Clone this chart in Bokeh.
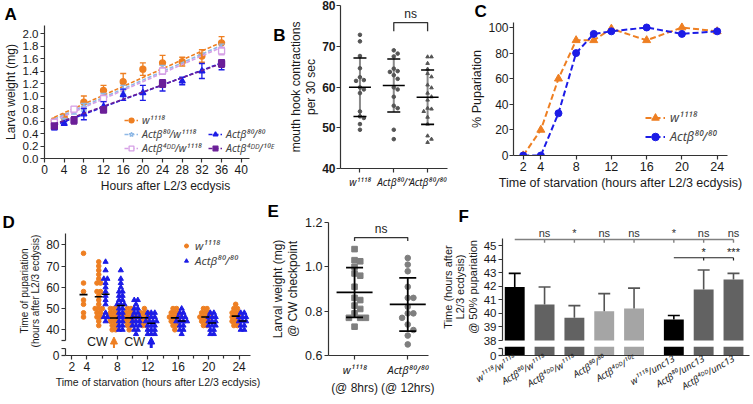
import math
from collections import Counter
import numpy as np
from bokeh.plotting import figure
from bokeh.layouts import row, column
from bokeh.models import (Range1d, FixedTicker, PrintfTickFormatter, Legend, LegendItem,
                          ColumnDataSource, Label, Arrow, NormalHead, LinearAxis)
from bokeh.core.properties import value
from bokeh.embed import file_html
from bokeh.resources import INLINE

# ---------------- Panel A: larval weight over time ----------------
A_hours_w1118 = [2, 4, 8, 12, 16, 20, 24, 28, 32, 36]
A_w1118 = [0.60, 0.66, 0.90, 1.09, 1.23, 1.43, 1.53, 1.55, 1.64, 1.85]
A_w1118_err = [0.04, 0.05, 0.10, 0.08, 0.13, 0.10, 0.12, 0.07, 0.10, 0.10]
A_hours_80w = [2, 4, 6, 8, 12, 16, 24, 36]
A_80w = [0.55, 0.60, 0.76, 0.82, 0.98, 1.10, 1.42, 1.76]
A_80w_err = [0.03, 0.04, 0.05, 0.06, 0.06, 0.07, 0.07, 0.07]
A_hours_4DDw = [2, 6, 12, 24, 36]
A_4DDw = [0.58, 0.79, 0.96, 1.40, 1.72]
A_4DDw_err = [0.03, 0.04, 0.05, 0.05, 0.06]
A_hours_8080 = [2, 4, 8, 12, 16, 20, 24, 28, 32, 36]
A_8080 = [0.49, 0.56, 0.71, 0.83, 1.02, 1.05, 1.17, 1.24, 1.40, 1.50]
A_8080_err = [0.03, 0.03, 0.09, 0.08, 0.09, 0.12, 0.09, 0.06, 0.12, 0.08]
A_hours_4DD10E = [2, 6, 12, 24, 36]
A_4DD10E = [0.52, 0.61, 0.78, 1.20, 1.52]
A_4DD10E_err = [0.03, 0.06, 0.05, 0.06, 0.06]
A_fit_hours = [2, 36]
A_fit_w1118 = [0.66, 1.86]
A_fit_80w = [0.63, 1.81]
A_fit_4DDw = [0.61, 1.78]
A_fit_8080 = [0.53, 1.53]
A_fit_4DD10E = [0.55, 1.52]
A_labels = ["w¹¹¹⁸", "Actβ⁸⁰/w¹¹¹⁸", "Actβ⁴ᴰᴰ/w¹¹¹⁸", "Actβ⁸⁰/⁸⁰", "Actβ⁴ᴰᴰ/¹⁰ᴱ"]

# ---------------- Panel B: mouth hook contractions ----------------
B_labels = ["w¹¹¹⁸", "Actβ⁸⁰/⁺", "Actβ⁸⁰/⁸⁰"]
B_w1118 = [72.8, 71.2, 67.6, 64.6, 62.4, 61.7, 61.5, 59.9, 59.4, 58.5, 54.0, 52.8, 52.4, 50.9, 49.5]
B_80p = [69.0, 68.2, 67.5, 64.5, 63.9, 63.7, 62.9, 62.0, 59.9, 59.4, 57.6, 55.4, 54.8, 49.5, 47.2]
B_8080 = [67.4, 67.4, 65.8, 64.4, 63.3, 62.5, 60.5, 59.8, 58.5, 57.6, 56.8, 54.8, 54.6, 54.0,
          52.6, 50.9, 48.0, 47.2, 46.4]
B_compare = (1, 2, "ns")

# ---------------- Panel C: % pupariation ----------------
C_hours = [2, 4, 6, 8, 10, 12, 16, 20, 24]
C_w1118 = [0, 20, 60, 90, 90, 99, 90, 100, 97]
C_8080 = [0, 0, 33, 80, 95, 97, 100, 95, 97]
C_labels = ["w¹¹¹⁸", "Actβ⁸⁰/⁸⁰"]

# ---------------- Panel D: time of pupariation ----------------
D_times_w1118 = [4, 6, 8, 10, 12, 16, 20, 24]
D_w1118 = [
    [76, 62, 58, 54, 52, 48, 46],
    [72, 70, 68, 66, 64, 62, 62, 58, 58, 56, 54, 52, 50, 50, 50, 48, 48, 46, 46, 44, 42],
    [50, 50, 50, 48, 48, 48, 46, 46, 46, 46, 44, 44, 44, 42, 42, 40, 40],
    [50, 50, 48, 48, 48, 46, 46, 46, 46, 44, 44, 44, 42, 42, 40],
    [50, 48, 48, 48, 46, 46, 46, 46, 44, 44, 44, 42, 42],
    [50, 50, 48, 48, 48, 46, 46, 46, 46, 44, 44, 44, 42, 42, 40],
    [50, 50, 48, 48, 48, 46, 46, 46, 46, 44, 44, 44, 42, 42],
    [52, 50, 50, 48, 48, 48, 46, 46, 46, 44, 44, 44, 42, 42],
]
D_times_8080 = [6, 8, 10, 12, 16, 20, 24]
D_8080 = [
    [72, 68, 64, 64, 62, 60, 58, 56, 54, 52, 48, 46, 46, 44],
    [68, 64, 62, 60, 58, 58, 56, 56, 54, 54, 52, 52, 52, 50, 50, 48, 48, 46, 46, 44, 44, 42, 42, 40, 40],
    [54, 54, 52, 50, 50, 48, 48, 46, 46, 46, 44, 44, 44, 42, 42, 42, 40, 40, 38],
    [48, 48, 48, 46, 46, 46, 44, 44, 44, 44, 42, 42, 42, 40, 40, 40, 38, 38, 38],
    [50, 48, 48, 46, 46, 46, 44, 44, 44, 44, 42, 42, 40, 40, 38],
    [48, 48, 46, 46, 46, 44, 44, 44, 42, 42, 42, 40, 40, 38, 38],
    [48, 48, 46, 46, 46, 44, 44, 44, 42, 42, 40, 40],
]
D_labels = ["w¹¹¹⁸", "Actβ⁸⁰/⁸⁰"]
D_cw_times = [8, 12]          # CW checkpoint: w1118 at 8 h, Actb80/80 at 12 h

# ---------------- Panel E: larval weight at CW checkpoint ----------------
E_labels = ["w¹¹¹⁸", "Actβ⁸⁰/⁸⁰"]
E_sublabels = ["(@ 8hrs)", "(@ 12hrs)"]
E_w1118 = [1.08, 1.03, 1.025, 1.0, 0.97, 0.96, 0.91, 0.86, 0.85, 0.825, 0.81, 0.79, 0.77, 0.77, 0.77, 0.73]
E_8080 = [1.04, 1.01, 0.98, 0.91, 0.86, 0.86, 0.82, 0.79, 0.79, 0.77, 0.74, 0.715, 0.69, 0.65]

# ---------------- Panel F: time at 50% pupariation ----------------
F_labels = ["w¹¹¹⁸/w¹¹¹⁸", "Actβ⁸⁰/w¹¹¹⁸", "Actβ⁴ᴰᴰ/w¹¹¹⁸", "Actβ⁸⁰/⁸⁰", "Actβ⁴ᴰᴰ/¹⁰ᴱ",
            "w¹¹¹⁸/unc13", "Actβ⁸⁰/unc13", "Actβ⁴ᴰᴰ/unc13"]
F_group = [0, 0, 0, 0, 0, 1, 1, 1]
F_values = [41.95, 40.65, 39.67, 40.16, 40.36, 39.55, 41.76, 42.50]
F_err = [1.00, 1.30, 0.90, 1.30, 1.50, 0.30, 1.44, 0.45]
F_sig_vs_w1118 = ["", "ns", "*", "ns", "ns", "*", "ns", "ns"]
F_sig_vs_unc13 = ["", "", "", "", "", "", "*", "***"]

# ---------------- styles ----------------
FONT = "Liberation Sans"
SUPFONT = "Noto Sans"
ORANGE = "#EE7F22"
BLUE = "#1C1CE6"
LIGHTBLUE = "#8FB9E6"
PINK = "#D6A0E6"
PURPLE = "#6B1F98"
AXC = "#333333"
F_colors = ["#000000", "#626262", "#626262", "#a5a5a5", "#a5a5a5", "#000000", "#626262", "#626262"]
F_errc = ["#000000", "#555555", "#555555", "#555555", "#555555", "#000000", "#555555", "#555555"]


def make_fig(w, h, xr, yr, left, right, top, bottom, x_axis=True):
    p = figure(width=w, height=h, x_range=xr, y_range=yr, output_backend="svg",
               toolbar_location=None, min_border_left=left, min_border_right=right,
               min_border_top=top, min_border_bottom=bottom,
               x_axis_location="below" if x_axis else None)
    p.xgrid.visible = False
    p.ygrid.visible = False
    p.outline_line_color = None
    return p


def style_axes(p, size="12px"):
    for ax in p.axis:
        ax.axis_line_color = AXC
        ax.axis_line_width = 1.2
        ax.major_tick_line_color = AXC
        ax.major_tick_line_width = 1.2
        ax.minor_tick_line_color = AXC
        ax.minor_tick_line_width = 1.2
        ax.major_tick_in = 0
        ax.major_tick_out = 4
        ax.minor_tick_in = 0
        ax.minor_tick_out = 4
        ax.major_label_text_font = FONT
        ax.major_label_text_font_size = size
        ax.major_label_text_color = "#1a1a1a"
        ax.axis_label_text_font = FONT
        ax.axis_label_text_font_size = size
        ax.axis_label_text_font_style = "normal"
        ax.axis_label_text_color = "#1a1a1a"
        ax.axis_label_text_line_height = 1.05
        ax.major_label_standoff = 2
        ax.axis_label_standoff = 2


def title_letter(p, t, offset):
    p.title.text = t
    p.title.align = "left"
    p.title.offset = offset
    p.title.standoff = 0
    p.title.vertical_align = "top"
    p.title.text_font = FONT
    p.title.text_font_size = "17px"
    p.title.text_font_style = "bold"
    p.title.text_color = "black"


def frame_letter(p, t, x, y, align="right"):
    p.add_layout(Label(x=x, y=y, text=t, text_font=FONT, text_font_size="17px",
                       text_font_style="bold", text_color="black",
                       text_baseline="top", text_align=align))


def make_legend(items, loc, glyph_w, row_h, fs="12px", standoff=4):
    return Legend(items=items, location=loc, orientation="vertical", padding=0, margin=0,
                  spacing=0, border_line_color=None, background_fill_alpha=0,
                  glyph_width=glyph_w, glyph_height=row_h, label_height=row_h,
                  label_standoff=standoff, label_text_font=SUPFONT, label_text_font_size=fs,
                  label_text_font_style="italic", label_text_line_height=1.0)


def swarm(vals, py, px, d):
    placed, res = [], [0.0] * len(vals)
    order = sorted(range(len(vals)), key=lambda i: -vals[i])
    for i in order:
        y = vals[i] * py
        found = 0.0
        for k in range(0, 30):
            cands = [0] if k == 0 else [k, -k]
            ok = None
            for c in cands:
                x = c * d
                if all((x - a) ** 2 + (y - b) ** 2 >= (0.95 * d) ** 2 for a, b in placed):
                    ok = x
                    break
            if ok is not None:
                found = ok
                break
        placed.append((found, y))
        res[i] = found / px
    return res


def dup_offsets(vals, step):
    cnt = Counter(vals)
    seen = {}
    out = []
    for v in vals:
        n = cnt[v]
        i = seen.get(v, 0)
        seen[v] = i + 1
        out.append((i - (n - 1) / 2) * step)
    return out


# ======================= Panel A =======================
A_xr = Range1d(0, 49.2)
pA = make_fig(286, 200, A_xr, Range1d(0, 2.128), 40, 0, 25, 42)
A_series = [
    (A_hours_w1118, A_w1118, A_w1118_err, A_fit_w1118, ORANGE, "circle", ORANGE),
    (A_hours_80w, A_80w, A_80w_err, A_fit_80w, LIGHTBLUE, "star", "white"),
    (A_hours_4DDw, A_4DDw, A_4DDw_err, A_fit_4DDw, PINK, "square", "white"),
    (A_hours_8080, A_8080, A_8080_err, A_fit_8080, BLUE, "triangle", BLUE),
    (A_hours_4DD10E, A_4DD10E, A_4DD10E_err, A_fit_4DD10E, PURPLE, "square", PURPLE),
]
A_items = []
for lab, (xs, ys, es, fit, col, mk, fill) in zip(A_labels, A_series):
    ln = pA.line(A_fit_hours, fit, line_color=col, line_width=1.6, line_dash="4 2")
    src = ColumnDataSource(dict(x=xs, y=ys, lo=[a - b for a, b in zip(ys, es)],
                                hi=[a + b for a, b in zip(ys, es)]))
    pA.segment("x", "lo", "x", "hi", source=src, line_color=col, line_width=1.3)
    pA.scatter("x", "hi", source=src, marker="dash", size=6, line_color=col, line_width=1.3)
    pA.scatter("x", "lo", source=src, marker="dash", size=6, line_color=col, line_width=1.3)
    sc = pA.scatter("x", "y", source=src, marker=mk, size=6, fill_color=fill,
                    line_color=col, line_width=1.3)
    A_items.append(LegendItem(label=lab, renderers=[ln, sc]))
pA.add_layout(make_legend(A_items[:3], (80, 3), 14, 12, fs="10.5px", standoff=4), "center")
pA.add_layout(make_legend(A_items[3:], (164, 3), 14, 12, fs="10.5px", standoff=4), "center")
pA.xaxis.ticker = FixedTicker(ticks=list(range(0, 41, 4)))
pA.xaxis.bounds = (0, 41.6)
pA.yaxis.ticker = FixedTicker(ticks=[round(0.2 * i, 1) for i in range(11)])
pA.yaxis.formatter = PrintfTickFormatter(format="%.1f")
pA.xaxis.axis_label = "Hours after L2/3 ecdysis"
pA.yaxis.axis_label = "Larva weight (mg)"
style_axes(pA, "12px")
pA.yaxis.major_label_text_font_size = "11.5px"
title_letter(pA, "A", -40)
# letter of panel B, drawn in the free top-right corner of this canvas
frame_letter(pA, "B", 49.0, 2.128)

# ======================= Panel B =======================
B_xr = Range1d(-0.575, 3.15)
pB = make_fig(180, 200, B_xr, Range1d(40, 80), 44, 0, 5, 32)
for i, (vals, mk) in enumerate(zip([B_w1118, B_80p, B_8080], ["circle", "circle", "triangle"])):
    m = float(np.mean(vals))
    s = float(np.std(vals, ddof=1))
    pB.segment([i], [m - s], [i], [m + s], line_color="#8a8a8a", line_width=2)
    offs = swarm(vals, 4.07, 36.5, 4.2)
    pB.scatter([i + o for o in offs], vals, marker=mk, size=3.6, color="#555555")
    pB.scatter([i, i], [m - s, m + s], marker="dash", size=13, line_color="black", line_width=1.6)
    pB.scatter([i], [m], marker="dash", size=22, line_color="black", line_width=1.6)
b0, b1, btxt = B_compare
pB.line([b0, b0, b1, b1], [73.7, 75.8, 75.8, 73.7], line_color=AXC, line_width=1.3)
pB.text([(b0 + b1) / 2], [76.3], text=[btxt], text_align="center", text_baseline="bottom",
        text_font=value(FONT), text_font_size="12px", text_color="#222222")
pB.xaxis.ticker = FixedTicker(ticks=[0, 1, 2])
pB.xaxis.bounds = (-0.575, 2.6)
pB.xaxis.major_label_overrides = {i: t for i, t in enumerate(B_labels)}
pB.yaxis.ticker = FixedTicker(ticks=[40, 50, 60, 70, 80])
pB.yaxis.axis_label = "mouth hook contractions\nper 30 sec"
style_axes(pB, "12px")
pB.yaxis.major_label_standoff = 1
pB.yaxis.axis_label_standoff = 1
pB.xaxis.major_label_text_font = SUPFONT
pB.xaxis.major_label_text_font_style = "italic"
pB.xaxis.major_label_text_font_size = "10px"
pB.yaxis.major_label_text_font_style = "bold"

# ======================= Panel C =======================
pC = make_fig(286, 200, Range1d(0.9, 25.17), Range1d(0, 103.9), 47, 25, 22, 45)
lc1 = pC.line(C_hours, C_w1118, line_color=ORANGE, line_width=2, line_dash="6 3")
sc1 = pC.scatter(C_hours, C_w1118, marker="triangle", size=8, color=ORANGE)
lc2 = pC.line(C_hours, C_8080, line_color=BLUE, line_width=2, line_dash="6 3")
sc2 = pC.scatter(C_hours, C_8080, marker="circle", size=7, color=BLUE)
pC.add_layout(make_legend([LegendItem(label=C_labels[0], renderers=[lc1, sc1]),
                           LegendItem(label=C_labels[1], renderers=[lc2, sc2])],
                          (132, 9), 20, 19, fs="12.5px", standoff=5), "center")
pC.xaxis.ticker = FixedTicker(ticks=[2, 4, 8, 12, 16, 20, 24])
pC.yaxis.ticker = FixedTicker(ticks=[0, 20, 40, 60, 80, 100])
pC.xaxis.axis_label = "Time of starvation (hours after L2/3 ecdysis)"
pC.yaxis.axis_label = "% Pupariation"
style_axes(pC, "12px")
pC.yaxis.major_label_standoff = 1
pC.yaxis.axis_label_standoff = 1
pC.xaxis.axis_label_text_font_size = "12.5px"
pC.xaxis.major_label_text_font_size = "12.5px"
pC.yaxis.axis_label_text_font_size = "12.5px"
title_letter(pC, "C", -39)

# ======================= Panel D =======================
D_xr = Range1d(1.18, 25.5)
pDt = make_fig(268, 148, D_xr, Range1d(31.2, 85.32), 65, 18, 33, 0, x_axis=False)
pDb = make_fig(268, 55, D_xr, Range1d(0, 3.29), 65, 18, 0, 48)
GROUP_SHIFT = 0.45
ox, oy, bx, by = [], [], [], []
for t, vals in zip(D_times_w1118, D_w1118):
    offs = dup_offsets(vals, 0.47)
    ox += [t - GROUP_SHIFT + o for o in offs]
    oy += vals
for t, vals in zip(D_times_8080, D_8080):
    offs = dup_offsets(vals, 0.47)
    bx += [t + GROUP_SHIFT + o for o in offs]
    by += vals
sD1 = pDt.scatter(ox, oy, marker="circle", size=4.6, color=ORANGE)
sD2 = pDt.scatter(bx, by, marker="triangle", size=5.2, color=BLUE)
pDt.scatter([t - GROUP_SHIFT for t in D_times_w1118], [float(np.mean(v)) for v in D_w1118],
            marker="dash", size=8, line_color="black", line_width=1.6)
pDt.scatter([t + GROUP_SHIFT for t in D_times_8080], [float(np.mean(v)) for v in D_8080],
            marker="dash", size=8, line_color="black", line_width=1.6)
pDt.add_layout(make_legend([LegendItem(label=D_labels[0], renderers=[sD1]),
                            LegendItem(label=D_labels[1], renderers=[sD2])],
                           (116, 80), 10, 13, fs="11.5px", standoff=4), "center")
# CW checkpoint marks
for t, shift, col, lw in zip(D_cw_times, [-GROUP_SHIFT, GROUP_SHIFT], [ORANGE, BLUE], [2, 3]):
    pDt.add_layout(Arrow(x_start=t + shift, y_start=31.2, x_end=t + shift, y_end=36.6,
                         line_color=col, line_width=lw,
                         end=NormalHead(size=7, fill_color=col, line_color=col)))
    pDt.add_layout(Label(x=t + shift - 0.8, y=34.4, text="CW", text_font=FONT,
                         text_font_size="12.5px", text_align="right", text_baseline="middle",
                         text_color="#1a1a1a"))
pDt.yaxis.ticker = FixedTicker(ticks=[40, 50, 60, 70, 80], minor_ticks=[35.0])
pDt.yaxis.bounds = (35.0, 85.32)
pDt.yaxis.axis_label = "Time of pupariation\n(hours after L2/3 ecdysis)"
style_axes(pDt, "12px")
pDt.yaxis.axis_label_text_font_size = "10px"
title_letter(pDt, "D", -63)
pDb.yaxis.ticker = FixedTicker(ticks=[0], minor_ticks=[3.29])
pDb.xaxis.ticker = FixedTicker(ticks=[2, 4, 8, 12, 16, 20, 24], minor_ticks=[6, 10, 14, 18, 22])
pDb.xaxis.axis_label = "Time of starvation (hours after L2/3 ecdysis)"
style_axes(pDb, "12px")
pDb.xaxis.axis_label_text_font_size = "10.5px"
pDb.xaxis.minor_tick_out = 3

# ======================= Panel E =======================
pE = make_fig(170, 203, Range1d(-0.49, 1.39), Range1d(0.6, 1.2), 50, 10, 22, 48)
for i, (vals, mk) in enumerate(zip([E_w1118, E_8080], ["square", "circle"])):
    m = float(np.mean(vals))
    s = float(np.std(vals, ddof=1))
    offs = swarm(vals, 221.7, 58.3, 6.2)
    pE.scatter([i + o for o in offs], vals, marker=mk, size=5.6, color="#7f7f7f")
    pE.segment([i], [m - s], [i], [m + s], line_color="black", line_width=1.8)
    pE.scatter([i, i], [m - s, m + s], marker="dash", size=17, line_color="black", line_width=1.8)
    pE.scatter([i], [m], marker="dash", size=36, line_color="black", line_width=1.8)
pE.line([0, 0, 1, 1], [1.117, 1.132, 1.132, 1.117], line_color=AXC, line_width=1.3)
pE.text([0.5], [1.138], text=["ns"], text_align="center", text_baseline="bottom",
        text_font=value(FONT), text_font_size="12px", text_color="#222222")
pE.xaxis.ticker = FixedTicker(ticks=[0, 1])
pE.xaxis.major_label_overrides = {i: t for i, t in enumerate(E_labels)}
pE.yaxis.ticker = FixedTicker(ticks=[0.6, 0.8, 1.0, 1.2])
pE.yaxis.formatter = PrintfTickFormatter(format="%.1f")
pE.yaxis.axis_label = "Larval weight (mg)\n@ CW checkpoint"
style_axes(pE, "12px")
pE.yaxis.major_label_text_font_size = "12.5px"
pE.xaxis.major_label_text_font = SUPFONT
pE.xaxis.major_label_text_font_style = "italic"
pE.xaxis.major_label_text_font_size = "11px"
ax2 = LinearAxis(ticker=FixedTicker(ticks=[0, 1]),
                 major_label_overrides={i: t for i, t in enumerate(E_sublabels)},
                 axis_line_color=None, major_tick_line_color=None, major_tick_out=0,
                 major_tick_in=0, major_label_standoff=1, major_label_text_font=FONT,
                 major_label_text_font_size="12px", major_label_text_color="#1a1a1a")
pE.add_layout(ax2, "below")
title_letter(pE, "E", -61)

# ======================= Panel F =======================
F_pos = [i + g / 3 for i, g in enumerate(F_group)]
F_xr = Range1d(-0.41, 7.87)
pFt = make_fig(314, 146, F_xr, Range1d(37.56, 46.33), 64, 3, 27, 0, x_axis=False)
pFb = make_fig(314, 57, F_xr, Range1d(0, 0.66), 64, 3, 0, 48)
for pf, bottom in ((pFt, 38), (pFb, 0)):
    pf.vbar(x=F_pos, top=F_values, bottom=bottom, width=0.667, fill_color=F_colors, line_color=None)
F_hi = [v + e for v, e in zip(F_values, F_err)]
pFt.segment(F_pos, F_values, F_pos, F_hi, line_color=F_errc, line_width=1.6)
pFt.scatter(F_pos, F_hi, marker="dash", size=12, line_color=F_errc, line_width=1.6)
# significance vs w1118/w1118
pFt.line([F_pos[0], F_pos[-1]], [45.45, 45.45], line_color="#808080", line_width=1.6)
sig1_x = [x for x, s in zip(F_pos, F_sig_vs_w1118) if s]
sig1_t = [s for s in F_sig_vs_w1118 if s]
pFt.segment(sig1_x, [45.45] * len(sig1_x), sig1_x, [45.2] * len(sig1_x), line_color="#808080", line_width=1.4)
pFt.text(sig1_x, [45.9] * len(sig1_x), text=sig1_t, text_align="center", text_baseline="middle",
         text_font=value(FONT), text_font_size="11px", text_color="#333333")
# significance vs w1118/unc13
ref_unc = F_group.index(1)
sig2_x = [x for x, s in zip(F_pos, F_sig_vs_unc13) if s]
sig2_t = [s for s in F_sig_vs_unc13 if s]
pFt.line([F_pos[ref_unc], F_pos[-1]], [44.1, 44.1], line_color="#222222", line_width=1.2)
pFt.segment(sig2_x, [44.1] * len(sig2_x), sig2_x, [43.9] * len(sig2_x), line_color="#222222", line_width=1.2)
pFt.text(sig2_x, [44.5] * len(sig2_x), text=sig2_t, text_align="center", text_baseline="middle",
         text_font=value(FONT), text_font_size="11px", text_color="#222222")
pFt.yaxis.ticker = FixedTicker(ticks=list(range(38, 46)))
pFt.yaxis.bounds = (38, 45.5)
pFt.yaxis.axis_label = "Time (hours after\nL2/3 ecdysis)\n@ 50% pupariation"
style_axes(pFt, "11.5px")
pFt.yaxis.axis_label_text_font_size = "11px"
title_letter(pFt, "F", -44)
pFb.yaxis.ticker = FixedTicker(ticks=[0], minor_ticks=[0.5])
pFb.yaxis.bounds = (0, 0.5)
pFb.xaxis.ticker = FixedTicker(ticks=F_pos)
pFb.xaxis.major_label_overrides = {x: t for x, t in zip(F_pos, F_labels)}
style_axes(pFb, "11.5px")
pFb.xaxis.major_label_orientation = math.pi / 6
pFb.xaxis.major_label_text_font = SUPFONT
pFb.xaxis.major_label_text_font_style = "italic"
pFb.xaxis.major_label_text_font_size = "9.5px"
pFb.xaxis.major_tick_out = 0

layout = column(row(column(pA), column(pB), column(pC)),
                row(column(pDt, pDb), column(pE), column(pFt, pFb)))
open("out.html", "w").write(file_html(layout, INLINE))
